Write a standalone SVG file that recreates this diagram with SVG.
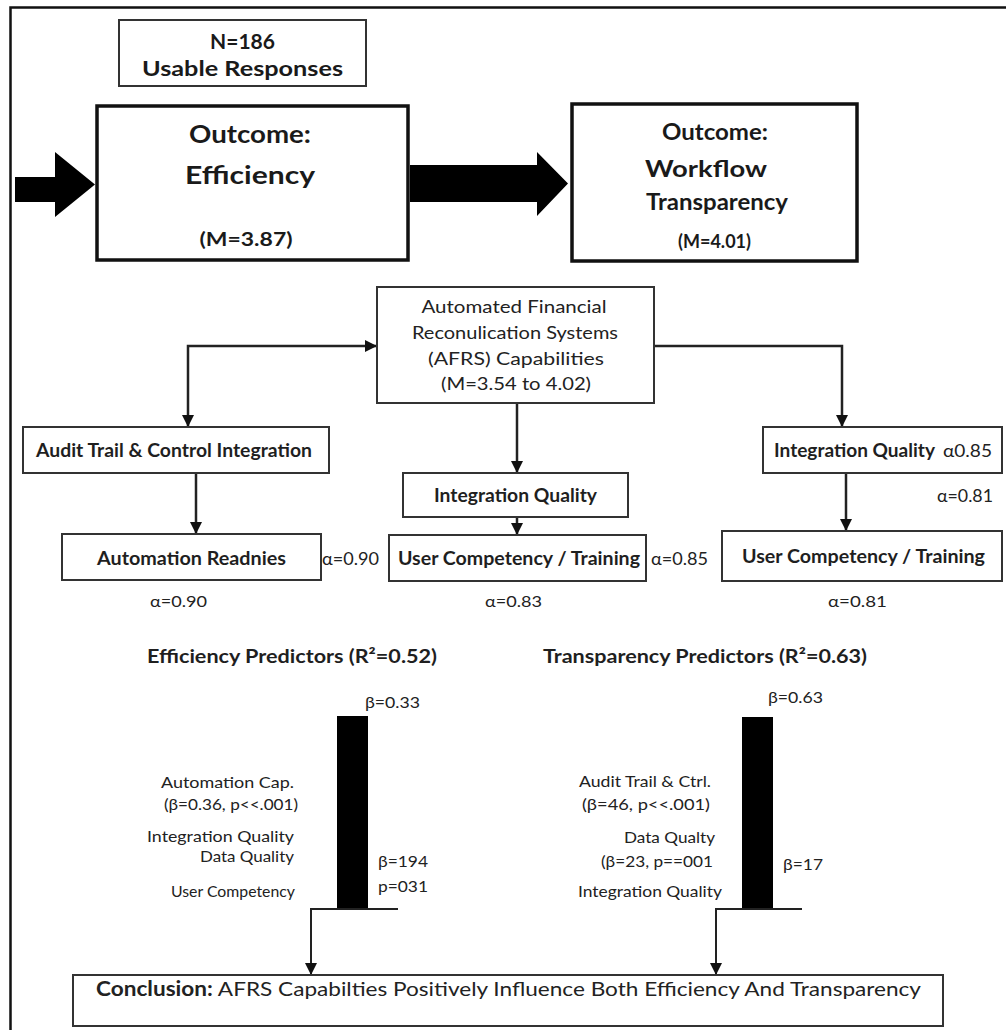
<svg xmlns="http://www.w3.org/2000/svg" width="1006" height="1030" viewBox="0 0 1006 1030">
  <style>
    .frame { fill: none; stroke: #111; stroke-width: 2.5; }
    .box { fill: #fff; stroke: #333; stroke-width: 2; }
    .bigbox { fill: #fff; stroke: #111; stroke-width: 3.5; }
    .line { fill: none; stroke: #222; stroke-width: 2.5; }
    .thin { fill: none; stroke: #222; stroke-width: 2; }
    .head { font-family: "Lato", "Open Sans", "Liberation Sans", sans-serif; font-weight: 700; fill: #1a1a1a; text-anchor: middle; }
    .semi { font-family: "Lato", "Open Sans", "Liberation Sans", sans-serif; font-weight: 700; fill: #1f1f1f; }
    .reg { font-family: "Lato", "Noto Sans", "Liberation Sans", sans-serif; font-weight: 400; fill: #222; }
    .mid { text-anchor: middle; }
    .end { text-anchor: end; }
  </style>
  <defs>
    <marker id="arr" viewBox="0 0 12 12" refX="11" refY="6" markerWidth="12" markerHeight="12" markerUnits="userSpaceOnUse" orient="auto">
      <path d="M0,0 L12,6 L0,12 Z" fill="#111"/>
    </marker>
    <marker id="arrBack" viewBox="0 0 12 12" refX="11" refY="6" markerWidth="12" markerHeight="12" markerUnits="userSpaceOnUse" orient="auto-start-reverse">
      <path d="M0,0 L12,6 L0,12 Z" fill="#111"/>
    </marker>
  </defs>

  <rect width="1006" height="1030" fill="#fff"/>

  <!-- page frame: top and left edges -->
  <path class="frame" d="M1006,7.5 L10.5,7.5 L10.5,1030"/>

  <!-- connectors -->
  <g id="connectors">
    <!-- block arrows between outcomes -->
    <path d="M15,177 L55,177 L55,152 L95,184.5 L55,217 L55,202 L15,202 Z" fill="#000"/>
    <path d="M410,165 L537,165 L537,152 L568,183.5 L537,216 L537,202 L410,202 Z" fill="#000"/>

    <!-- AFRS to left branch (two-headed) -->
    <path class="line" d="M376,346 L188,346 L188,426" marker-start="url(#arrBack)" marker-end="url(#arr)"/>
    <!-- AFRS to right branch -->
    <path class="line" d="M654,346 L842,346 L842,426" marker-end="url(#arr)"/>
    <!-- AFRS down to middle Integration Quality -->
    <path class="line" d="M517,403 L517,472" marker-end="url(#arr)"/>
    <!-- Audit trail to Automation Readnies -->
    <path class="line" d="M196,473 L196,533" marker-end="url(#arr)"/>
    <!-- middle Integration Quality to User Competency -->
    <path class="line" d="M517,517 L517,534" marker-end="url(#arr)"/>
    <!-- right Integration Quality to User Competency -->
    <path class="line" d="M846,473 L846,530" marker-end="url(#arr)"/>

    <!-- predictor bars -->
    <rect x="337" y="716" width="31" height="193" fill="#000"/>
    <rect x="742" y="717" width="31" height="192" fill="#000"/>
    <path class="thin" d="M398,909 L311,909 L311,974" marker-end="url(#arr)"/>
    <path class="thin" d="M802,909 L716,909 L716,974" marker-end="url(#arr)"/>
  </g>

  <!-- sample size -->
  <g id="sample">
    <rect class="box" x="119" y="20" width="247" height="66"/>
    <text class="head" x="242.5" y="49" font-size="21">N=186</text>
    <text class="head" x="242.5" y="76" font-size="21" textLength="201" lengthAdjust="spacingAndGlyphs">Usable Responses</text>
  </g>

  <!-- outcome: efficiency -->
  <g id="efficiency">
    <rect class="bigbox" x="97" y="106" width="311" height="154"/>
    <text class="head" x="250" y="143" font-size="24" textLength="122" lengthAdjust="spacingAndGlyphs">Outcome:</text>
    <text class="head" x="250" y="184" font-size="24" textLength="130" lengthAdjust="spacingAndGlyphs">Efficiency</text>
    <text class="head" x="246" y="246" font-size="18" textLength="93" lengthAdjust="spacingAndGlyphs">(M=3.87)</text>
  </g>

  <!-- outcome: workflow transparency -->
  <g id="transparency">
    <rect class="bigbox" x="572" y="104" width="285" height="157"/>
    <text class="head" x="715" y="140" font-size="23" textLength="106" lengthAdjust="spacingAndGlyphs">Outcome:</text>
    <text class="head" x="706" y="177" font-size="23" textLength="122" lengthAdjust="spacingAndGlyphs">Workflow</text>
    <text class="head" x="717" y="210" font-size="23" textLength="142" lengthAdjust="spacingAndGlyphs">Transparency</text>
    <text class="head" x="714.5" y="248" font-size="18" textLength="73" lengthAdjust="spacingAndGlyphs">(M=4.01)</text>
  </g>

  <!-- AFRS capabilities -->
  <g id="afrs">
    <rect class="box" x="377" y="287" width="277" height="116"/>
    <text class="reg mid" x="514" y="313" font-size="18" textLength="185" lengthAdjust="spacingAndGlyphs">Automated Financial</text>
    <text class="reg mid" x="515" y="339" font-size="18" textLength="206" lengthAdjust="spacingAndGlyphs">Reconulication Systems</text>
    <text class="reg mid" x="516" y="365" font-size="18" textLength="176" lengthAdjust="spacingAndGlyphs">(AFRS) Capabilities</text>
    <text class="reg mid" x="516" y="390" font-size="18" textLength="150" lengthAdjust="spacingAndGlyphs">(M=3.54 to 4.02)</text>
  </g>

  <!-- left branch -->
  <g id="audit-trail">
    <rect class="box" x="23" y="427" width="306" height="46"/>
    <text class="semi" x="36" y="457" font-size="18" textLength="276" lengthAdjust="spacingAndGlyphs">Audit Trail &amp; Control Integration</text>
  </g>
  <g id="automation-readiness">
    <rect class="box" x="62" y="534" width="259" height="46"/>
    <text class="semi" x="97" y="565" font-size="18" textLength="189" lengthAdjust="spacingAndGlyphs">Automation Readnies</text>
    <text class="reg" x="322" y="565" font-size="17" textLength="57" lengthAdjust="spacingAndGlyphs">α=0.90</text>
    <text class="reg" x="150" y="607" font-size="16" textLength="57" lengthAdjust="spacingAndGlyphs">α=0.90</text>
  </g>

  <!-- middle branch -->
  <g id="integration-quality-mid">
    <rect class="box" x="403" y="473" width="225" height="44"/>
    <text class="semi" x="434" y="502" font-size="18" textLength="163" lengthAdjust="spacingAndGlyphs">Integration Quality</text>
  </g>
  <g id="user-competency-mid">
    <rect class="box" x="389" y="535" width="257" height="46"/>
    <text class="semi" x="398" y="565" font-size="18" textLength="242" lengthAdjust="spacingAndGlyphs">User Competency / Training</text>
    <text class="reg" x="651" y="565" font-size="17" textLength="57" lengthAdjust="spacingAndGlyphs">α=0.85</text>
    <text class="reg" x="485" y="607" font-size="16" textLength="57" lengthAdjust="spacingAndGlyphs">α=0.83</text>
  </g>

  <!-- right branch -->
  <g id="integration-quality-right">
    <rect class="box" x="763" y="427" width="239" height="46"/>
    <text class="semi" x="774" y="457" font-size="18" textLength="161" lengthAdjust="spacingAndGlyphs">Integration Quality</text>
    <text class="reg" x="943" y="457" font-size="17" textLength="49" lengthAdjust="spacingAndGlyphs">α0.85</text>
    <text class="reg" x="937" y="502" font-size="17" textLength="56" lengthAdjust="spacingAndGlyphs">α=0.81</text>
  </g>
  <g id="user-competency-right">
    <rect class="box" x="722" y="531" width="280" height="50"/>
    <text class="semi" x="742" y="563" font-size="18" textLength="243" lengthAdjust="spacingAndGlyphs">User Competency / Training</text>
    <text class="reg" x="828" y="607" font-size="16" textLength="59" lengthAdjust="spacingAndGlyphs">α=0.81</text>
  </g>

  <!-- efficiency predictors -->
  <g id="efficiency-predictors">
    <text class="semi" x="147" y="663" font-size="19" textLength="290" lengthAdjust="spacingAndGlyphs">Efficiency Predictors (R²=0.52)</text>
    <text class="reg" x="365" y="708" font-size="15" textLength="55" lengthAdjust="spacingAndGlyphs">β=0.33</text>
    <text class="reg end" x="294" y="788" font-size="15" textLength="133" lengthAdjust="spacingAndGlyphs">Automation Cap.</text>
    <text class="reg end" x="298" y="810" font-size="15" textLength="134" lengthAdjust="spacingAndGlyphs">(β=0.36, p&lt;&lt;.001)</text>
    <text class="reg end" x="294" y="842" font-size="15" textLength="147" lengthAdjust="spacingAndGlyphs">Integration Quality</text>
    <text class="reg end" x="294" y="862" font-size="15" textLength="94" lengthAdjust="spacingAndGlyphs">Data Quality</text>
    <text class="reg end" x="295" y="897" font-size="15" textLength="124" lengthAdjust="spacingAndGlyphs">User Competency</text>
    <text class="reg" x="378" y="867" font-size="15" textLength="50" lengthAdjust="spacingAndGlyphs">β=194</text>
    <text class="reg" x="378" y="892" font-size="15" textLength="50" lengthAdjust="spacingAndGlyphs">p=031</text>
  </g>

  <!-- transparency predictors -->
  <g id="transparency-predictors">
    <text class="semi" x="543" y="663" font-size="19" textLength="324" lengthAdjust="spacingAndGlyphs">Transparency Predictors (R²=0.63)</text>
    <text class="reg" x="768" y="703" font-size="15" textLength="55" lengthAdjust="spacingAndGlyphs">β=0.63</text>
    <text class="reg end" x="711" y="787" font-size="15" textLength="132" lengthAdjust="spacingAndGlyphs">Audit Trail &amp; Ctrl.</text>
    <text class="reg end" x="710" y="810" font-size="15" textLength="128" lengthAdjust="spacingAndGlyphs">(β=46, p&lt;&lt;.001)</text>
    <text class="reg end" x="715" y="843" font-size="15" textLength="91" lengthAdjust="spacingAndGlyphs">Data Qualty</text>
    <text class="reg end" x="713" y="867" font-size="15" textLength="112" lengthAdjust="spacingAndGlyphs">(β=23, p==001</text>
    <text class="reg" x="783" y="870" font-size="15" textLength="40" lengthAdjust="spacingAndGlyphs">β=17</text>
    <text class="reg end" x="722" y="897" font-size="15" textLength="144" lengthAdjust="spacingAndGlyphs">Integration Quality</text>
  </g>

  <!-- conclusion -->
  <g id="conclusion">
    <rect class="box" x="73" y="975" width="870" height="51" stroke-width="2.5"/>
    <text class="reg" x="96" y="996" font-size="20" textLength="825" lengthAdjust="spacingAndGlyphs"><tspan font-weight="700">Conclusion:</tspan> AFRS Capabilties Positively Influence Both Efficiency And Transparency</text>
  </g>
</svg>
